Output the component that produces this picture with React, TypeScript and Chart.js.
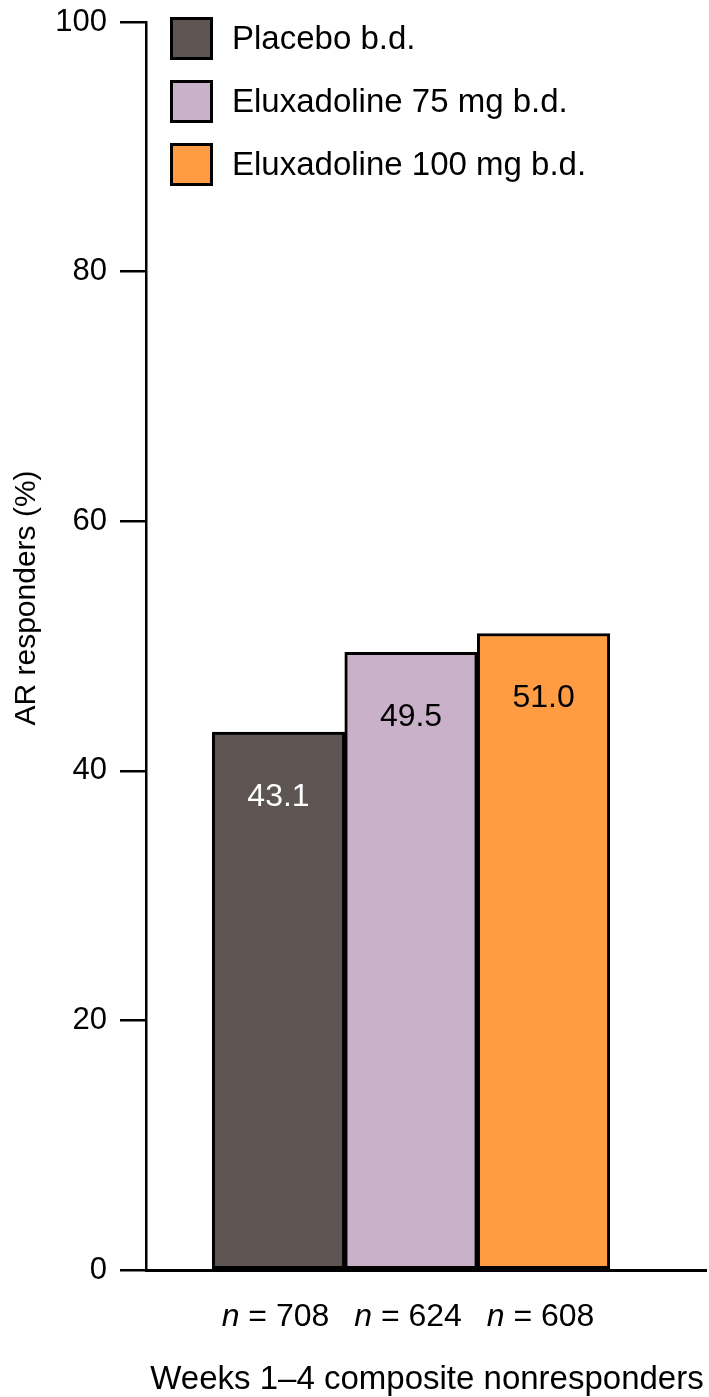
import React, { useEffect, useRef } from 'react';
import { Chart, registerables } from 'chart.js';

Chart.register(...registerables);

// ---- Data ----
const SERIES_LABELS = ['Placebo b.d.', 'Eluxadoline 75 mg b.d.', 'Eluxadoline 100 mg b.d.'];
const N_VALUES = [708, 624, 608];
const RESPONDERS = [43.1, 49.5, 51.0];
const BAR_SLOTS = [1, 2, 3];
const Y_TICKS = [0, 20, 40, 60, 80, 100];
const X_TITLE = 'Weeks 1–4 composite nonresponders';
const Y_TITLE = 'AR responders (%)';

// ---- Styles ----
const BAR_COLORS = ['#5E5452', '#C9B1C9', '#FE9B43'];
const VALUE_COLORS = ['#ffffff', '#000000', '#000000'];
const FONT = '"Liberation Sans", Arial, Helvetica, sans-serif';

const W = 709;
const H = 1397;

const overlay = {
  id: 'overlay',
  afterDraw(chart: any) {
    const { ctx, chartArea } = chart;
    const meta = chart.getDatasetMeta(0);
    ctx.save();
    // value labels inside bars
    ctx.font = `32px ${FONT}`;
    ctx.textAlign = 'center';
    ctx.textBaseline = 'middle';
    meta.data.forEach((bar: any, i: number) => {
      ctx.fillStyle = VALUE_COLORS[i];
      ctx.fillText(RESPONDERS[i].toFixed(1), bar.x, bar.y + 65);
    });
    // n labels
    ctx.textBaseline = 'alphabetic';
    ctx.textAlign = 'left';
    meta.data.forEach((bar: any, i: number) => {
      const rest = ` = ${N_VALUES[i]}`;
      ctx.font = `italic 32px ${FONT}`;
      const wn = ctx.measureText('n').width;
      ctx.font = `32px ${FONT}`;
      const wr = ctx.measureText(rest).width;
      const x0 = bar.x - (wn + wr) / 2 - 3;
      const yb = chartArea.bottom + 56;
      ctx.fillStyle = '#000';
      ctx.font = `italic 32px ${FONT}`;
      ctx.fillText('n', x0, yb);
      ctx.font = `32px ${FONT}`;
      ctx.fillText(rest, x0 + wn, yb);
    });
    // x title
    ctx.textAlign = 'center';
    ctx.font = `33px ${FONT}`;
    ctx.fillText(X_TITLE, (chartArea.left + chartArea.right) / 2 + 1, chartArea.bottom + 119);
    // y title
    ctx.save();
    ctx.translate(27, 598);
    ctx.rotate(-Math.PI / 2);
    ctx.textBaseline = 'middle';
    ctx.font = `30px ${FONT}`;
    ctx.fillText(Y_TITLE, 0, 0);
    ctx.restore();
    // legend
    const boxX = 170;
    const boxS = 43;
    ctx.textAlign = 'left';
    ctx.textBaseline = 'middle';
    ctx.font = `33px ${FONT}`;
    SERIES_LABELS.forEach((lab, i) => {
      const top = 17 + i * 63;
      ctx.fillStyle = BAR_COLORS[i];
      ctx.fillRect(boxX, top, boxS, boxS);
      ctx.lineWidth = 3;
      ctx.strokeStyle = '#000';
      ctx.strokeRect(boxX + 1.5, top + 1.5, boxS - 3, boxS - 3);
      ctx.fillStyle = '#000';
      ctx.fillText(lab, 232, top + boxS / 2 + 1);
    });
    ctx.restore();
  },
};

export default function App() {
  const ref = useRef<HTMLCanvasElement>(null);
  useEffect(() => {
    if (!ref.current) return;
    const chart = new Chart(ref.current, {
      type: 'bar',
      data: {
        datasets: [
          {
            label: 'AR responders',
            data: BAR_SLOTS.map((x, i) => ({ x, y: RESPONDERS[i] })),
            backgroundColor: BAR_COLORS,
            borderColor: '#000',
            borderWidth: 3,
            borderSkipped: false,
            barPercentage: 1,
            categoryPercentage: 1,
          },
        ],
      },
      options: {
        animation: false,
        responsive: false,
        devicePixelRatio: 1,
        layout: { padding: { left: 0, right: 3, top: 22, bottom: 119 } },
        plugins: { legend: { display: false }, tooltip: { enabled: false } },
        scales: {
          x: {
            type: 'linear',
            min: 0,
            max: 4.226,
            offset: false,
            afterBuildTicks: (scale: any) => {
              scale.ticks = BAR_SLOTS.map((v) => ({ value: v }));
            },
            grid: { display: false },
            ticks: { display: false },
            border: { display: true, color: '#000', width: 3 },
          },
          y: {
            min: 0,
            max: 100,
            afterBuildTicks: (scale: any) => {
              scale.ticks = Y_TICKS.map((v) => ({ value: v }));
            },
            afterFit: (scale: any) => {
              scale.width = 146;
            },
            grid: {
              display: true,
              drawOnChartArea: false,
              drawTicks: true,
              tickLength: 26,
              color: '#000',
              lineWidth: 2.5,
            },
            border: { display: true, color: '#000', width: 2.5 },
            ticks: {
              color: '#000',
              padding: 13,
              font: { family: FONT, size: 31, lineHeight: 0.4 },
            },
          },
        },
      },
      plugins: [overlay],
    });
    return () => chart.destroy();
  }, []);
  return (
    <div style={{ position: 'absolute', left: 0, top: 0, width: W, height: H }}>
      <canvas ref={ref} width={W} height={H} style={{ width: W, height: H, display: 'block' }} />
    </div>
  );
}
